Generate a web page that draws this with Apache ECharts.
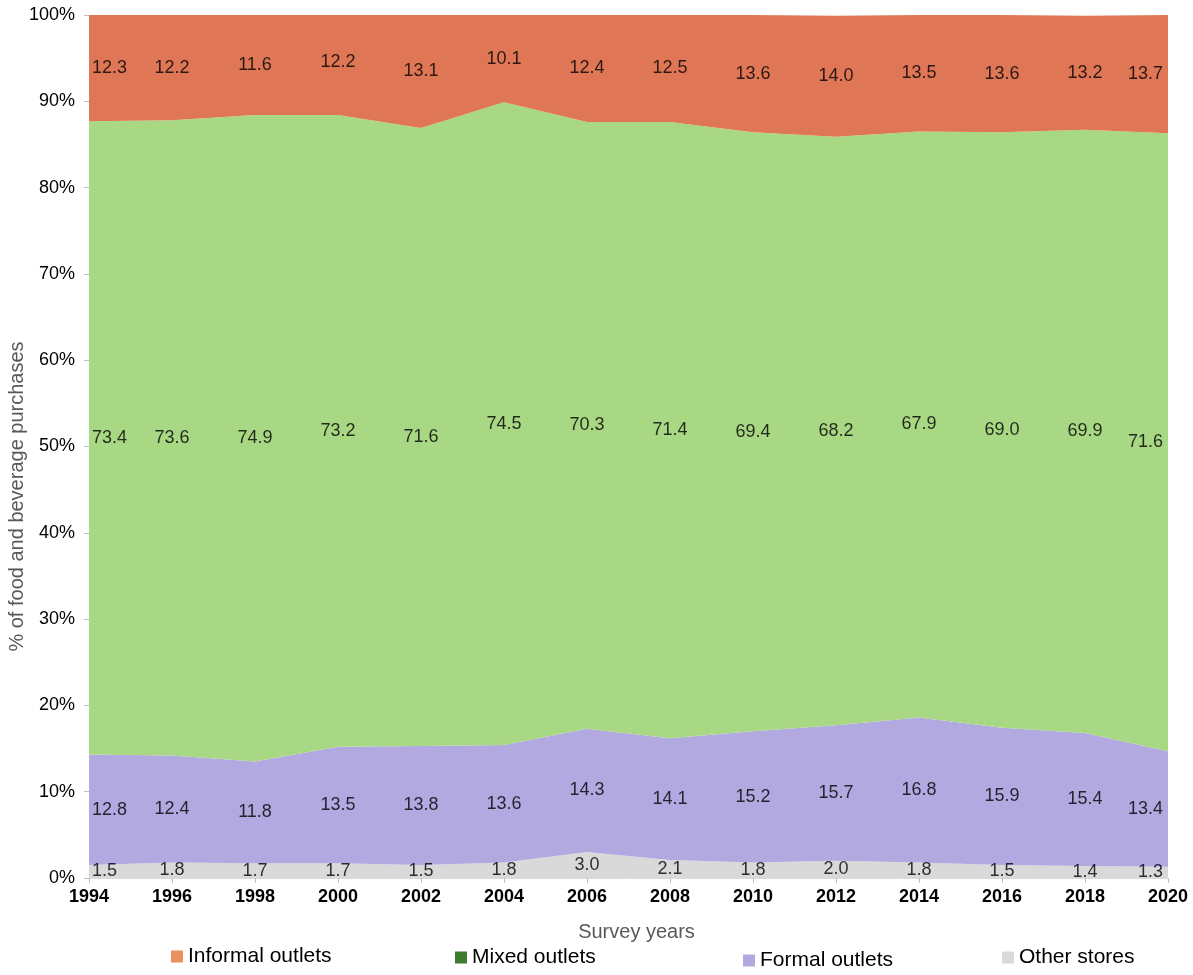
<!DOCTYPE html>
<html>
<head>
<meta charset="utf-8">
<script src="https://cdn.jsdelivr.net/npm/echarts@6/dist/echarts.min.js"></script>
<style>
  html, body { margin: 0; padding: 0; background: #fff; }
  #chart { width: 1193px; height: 975px; }
</style>
</head>
<body>
<div id="chart"></div>
<script>
const years = ['1994', '1996', '1998', '2000', '2002', '2004', '2006', '2008', '2010', '2012', '2014', '2016', '2018', '2020'];
const otherStores = [1.5, 1.8, 1.7, 1.7, 1.5, 1.8, 3.0, 2.1, 1.8, 2.0, 1.8, 1.5, 1.4, 1.3];
const formalOutlets = [12.8, 12.4, 11.8, 13.5, 13.8, 13.6, 14.3, 14.1, 15.2, 15.7, 16.8, 15.9, 15.4, 13.4];
const mixedOutlets = [73.4, 73.6, 74.9, 73.2, 71.6, 74.5, 70.3, 71.4, 69.4, 68.2, 67.9, 69.0, 69.9, 71.6];
const informalOutlets = [12.3, 12.2, 11.6, 12.2, 13.1, 10.1, 12.4, 12.5, 13.6, 14.0, 13.5, 13.6, 13.2, 13.7];

const FONT = 'Liberation Sans, Arial, sans-serif';

// stacking order from bottom to top
const layers = [
  { name: 'Other stores', values: otherStores, color: '#d9d9d9', legendColor: '#d9d9d9' },
  { name: 'Formal outlets', values: formalOutlets, color: '#b1a9e0', legendColor: '#b1a9e0' },
  { name: 'Mixed outlets', values: mixedOutlets, color: '#a9d884', legendColor: '#3e7d2f' },
  { name: 'Informal outlets', values: informalOutlets, color: '#df7757', legendColor: '#e8915f' }
];

const last = years.length - 1;

// label points sit at the middle of each band
function labelPoints(idx) {
  return years.map((y, i) => {
    let base = 0;
    for (let k = 0; k < idx; k++) base += layers[k].values[i];
    const v = layers[idx].values[i];
    const item = { value: [i, base + v / 2, v] };
    if (i === 0) item.label = { align: 'left', offset: [3, 0] };
    if (i === last) item.label = { align: 'right', offset: [-5, 0] };
    return item;
  });
}

const areaSeries = layers.map(l => ({
  name: l.name,
  type: 'line',
  stack: 'total',
  symbol: 'none',
  lineStyle: { width: 0 },
  areaStyle: { color: l.color, opacity: 1 },
  itemStyle: { color: l.color },
  data: l.values,
  silent: true
}));

const labelSeries = layers.map((l, idx) => ({
  name: l.name + ' labels',
  type: 'scatter',
  symbolSize: 0,
  silent: true,
  z: 5,
  label: {
    show: true,
    position: 'inside',
    color: '#000',
    fontFamily: FONT,
    fontSize: 18,
    formatter: p => p.value[2].toFixed(1)
  },
  data: labelPoints(idx)
}));

const legendPos = [
  { name: 'Informal outlets', left: 171, top: 946 },
  { name: 'Mixed outlets', left: 455, top: 947 },
  { name: 'Formal outlets', left: 743, top: 950 },
  { name: 'Other stores', left: 1002, top: 947 }
];

const legends = legendPos.map(p => {
  const l = layers.find(x => x.name === p.name);
  return {
    left: p.left,
    top: p.top,
    padding: 0,
    icon: 'rect',
    itemWidth: 12,
    itemHeight: 12,
    selectedMode: false,
    textStyle: { fontFamily: FONT, fontSize: 21, color: '#000' },
    data: [{ name: p.name, itemStyle: { color: l.legendColor } }]
  };
});

const chart = echarts.init(document.getElementById('chart'), null, { renderer: 'canvas' });
chart.setOption({
  animation: false,
  backgroundColor: '#fff',
  grid: { left: 89, right: 25, top: 15, bottom: 97, containLabel: false, outerBoundsMode: 'none' },
  legend: legends,
  xAxis: {
    type: 'category',
    data: years,
    boundaryGap: false,
    name: 'Survey years',
    nameLocation: 'middle',
    nameGap: 44,
    nameMoveOverlap: false,
    nameTextStyle: { fontFamily: FONT, fontSize: 20, color: '#595959', padding: [0, 0, 0, 16] },
    axisLine: { show: true, lineStyle: { color: '#d9d9d9' } },
    axisTick: { show: true, length: 5, alignWithLabel: true, lineStyle: { color: '#bfbfbf' } },
    axisLabel: { fontFamily: FONT, fontSize: 18, fontWeight: 'bold', color: '#000', margin: 10 },
    splitLine: { show: false }
  },
  yAxis: {
    type: 'value',
    min: 0,
    max: 100,
    interval: 10,
    name: '% of food and beverage purchases',
    nameLocation: 'middle',
    nameGap: 62,
    nameMoveOverlap: false,
    // the title sits a little below the middle of the axis
    nameTextStyle: { fontFamily: FONT, fontSize: 20, color: '#595959', padding: [0, 100, 0, 0] },
    axisLine: { show: false },
    axisTick: { show: true, length: 5, lineStyle: { color: '#bfbfbf' } },
    axisLabel: { fontFamily: FONT, fontSize: 18, color: '#000', margin: 14, formatter: v => v + '%' },
    splitLine: { show: false }
  },
  series: areaSeries.concat(labelSeries)
});
</script>
</body>
</html>
